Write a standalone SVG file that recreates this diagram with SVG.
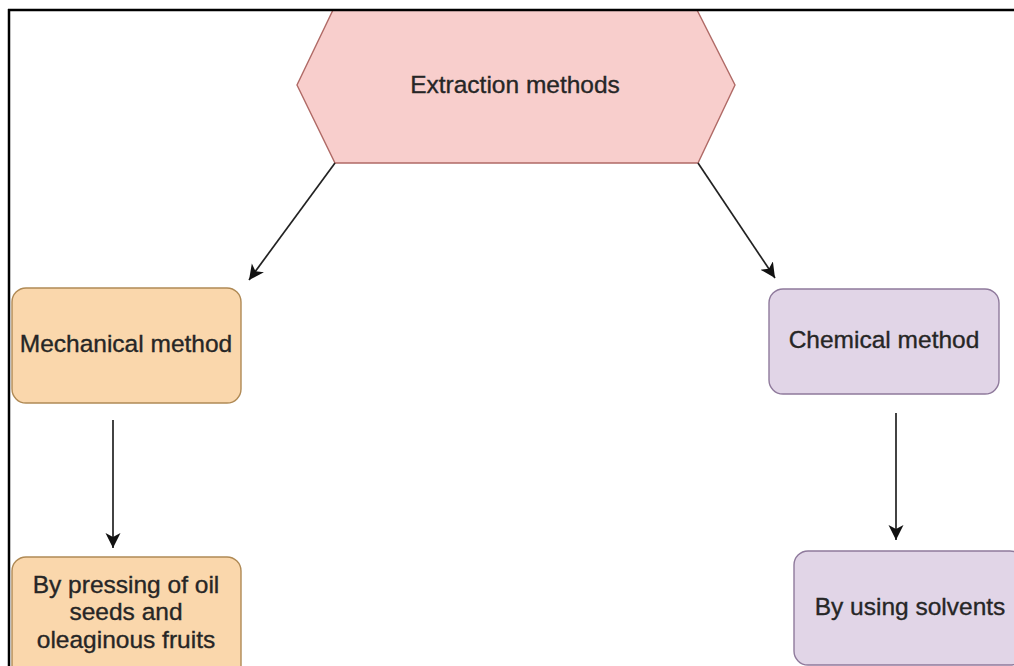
<svg xmlns="http://www.w3.org/2000/svg" width="1014" height="666" viewBox="0 0 1014 666">
  <style>
    .lbl { font-family: "Liberation Sans", Arial, sans-serif; font-size: 24.5px; fill: #262626; stroke: #262626; stroke-width: 0.35; text-anchor: middle; }
    .orange { fill: #fad7ac; stroke: #b08a55; stroke-width: 1.4; }
    .purple { fill: #e1d5e7; stroke: #8f7a9c; stroke-width: 1.4; }
    .pink { fill: #f8cecc; stroke: #b06a66; stroke-width: 1.4; }
    .edge { fill: none; stroke: #222; stroke-width: 1.7; marker-end: url(#arrow); }
  </style>
  <defs>
    <marker id="arrow" markerUnits="userSpaceOnUse" markerWidth="16" markerHeight="16" refX="15" refY="7.5" orient="auto">
      <path d="M0,0 L15,7.5 L0,15 L4,7.5 z" fill="#111"/>
    </marker>
  </defs>
  <rect x="0" y="0" width="1014" height="666" fill="#ffffff"/>

  <g id="node-extraction">
    <polygon class="pink" points="333,10 697,10 735,85 698,163 335,163 297,85"/>
    <text class="lbl" x="515" y="93">Extraction methods</text>
  </g>

  <g id="node-mechanical">
    <rect class="orange" x="12" y="288" width="229" height="115" rx="14" ry="14"/>
    <text class="lbl" x="126" y="352">Mechanical method</text>
  </g>

  <g id="node-chemical">
    <rect class="purple" x="769" y="289" width="230" height="105" rx="14" ry="14"/>
    <text class="lbl" x="884" y="348">Chemical method</text>
  </g>

  <g id="node-pressing">
    <rect class="orange" x="12" y="557" width="229" height="130" rx="14" ry="14"/>
    <text class="lbl" x="126" y="593">By pressing of oil</text>
    <text class="lbl" x="126" y="620">seeds and</text>
    <text class="lbl" x="126" y="648">oleaginous fruits</text>
  </g>

  <g id="node-solvents">
    <rect class="purple" x="794" y="551" width="230" height="114" rx="14" ry="14"/>
    <text class="lbl" x="910" y="615">By using solvents</text>
  </g>

  <g id="connectors">
    <line class="edge" x1="335" y1="163" x2="249" y2="280"/>
    <line class="edge" x1="698" y1="163" x2="775" y2="278"/>
    <line class="edge" x1="113" y1="420" x2="113" y2="548"/>
    <line class="edge" x1="896" y1="413" x2="896" y2="540"/>
  </g>

  <g id="frame">
    <line x1="8" y1="10" x2="1014" y2="10" stroke="#000" stroke-width="2.5"/>
    <line x1="9" y1="9" x2="9" y2="666" stroke="#000" stroke-width="2.5"/>
  </g>
</svg>
